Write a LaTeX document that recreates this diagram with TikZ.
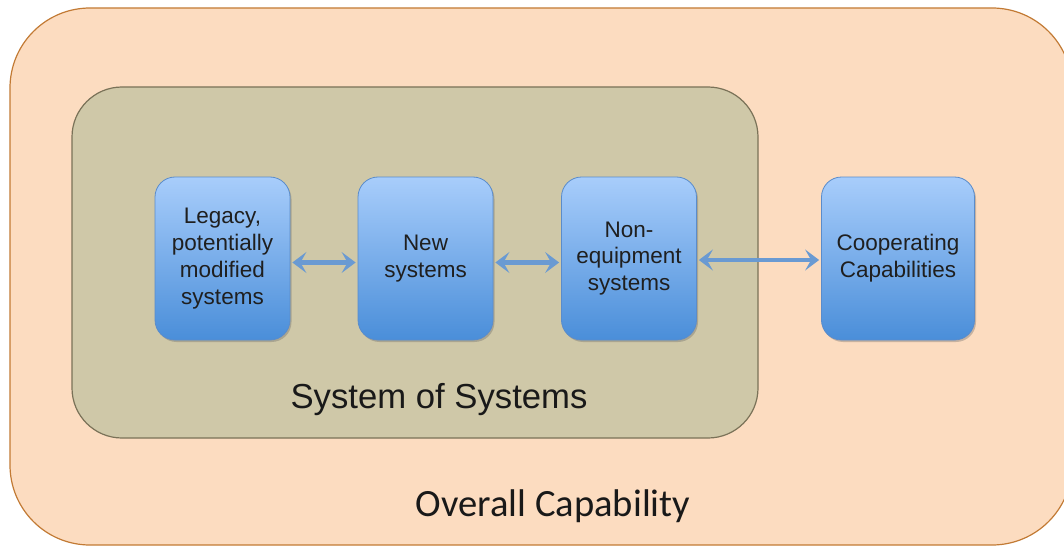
\documentclass[tikz,border=0pt]{standalone}
\usepackage{fontspec}
\setmainfont{Liberation Sans}
\newfontfamily\capfont{Carlito}
\usetikzlibrary{arrows.meta,shadows}
\definecolor{outerfill}{HTML}{FCDCC0}
\definecolor{outerline}{HTML}{C27A34}
\definecolor{innerfill}{HTML}{CFC8A8}
\definecolor{innerline}{HTML}{7A7258}
\definecolor{boxtop}{HTML}{A8CDFB}
\definecolor{boxbot}{HTML}{4A8ED9}
\definecolor{boxline}{HTML}{5A8CCB}
\definecolor{arrowcol}{HTML}{6A9AD2}
\tikzset{
  px/.style={x=1pt,y=-1pt},
  sysbox/.style={draw=boxline, line width=0.8pt, rounded corners=20pt,
    top color=boxtop, bottom color=boxbot,
    minimum width=135pt, minimum height=163pt,
    align=center, font=\fontsize{22.5}{26.8}\selectfont, text=black!88,
    drop shadow={shadow xshift=1.5pt, shadow yshift=-2pt, opacity=0.35, fill=black!60}},
  link/.style={draw=arrowcol, line width=4.5pt,
    {Stealth[length=14pt,width=21pt,inset=6pt]}-{Stealth[length=14pt,width=21pt,inset=6pt]}}
}
\begin{document}
\begin{tikzpicture}[px]
\useasboundingbox (0,0) rectangle (1064,548);
\clip (0,0) rectangle (1064,548);
% outer capability region
\draw[fill=outerfill, draw=outerline, line width=1.2pt, rounded corners=80pt]
  (10,8) rectangle (1072,545);
% system of systems region
\draw[fill=innerfill, draw=innerline, line width=1.2pt, rounded corners=50pt]
  (72,87) rectangle (758,438);
% constituent systems
\node[sysbox] (legacy) at (222.5,258.5) {Legacy,\\potentially\\modified\\systems};
\node[sysbox] (new) at (425.5,258.5) {New\\systems};
\node[sysbox] (noneq) at (629,258.5) {Non-\\equipment\\systems};
\node[sysbox, minimum width=153pt] (coop) at (898,258.5) {Cooperating\\Capabilities};
% interactions
\draw[link] ([yshift=-4pt,xshift=2pt]legacy.east) -- ([yshift=-4pt,xshift=-2pt]new.west);
\draw[link] ([yshift=-4pt,xshift=2pt]new.east) -- ([yshift=-4pt,xshift=-2pt]noneq.west);
\draw[link] ([yshift=-1.5pt,xshift=2pt]noneq.east) -- ([yshift=-1.5pt,xshift=-2pt]coop.west);
% region labels
\node[font=\fontsize{34.7}{40}\selectfont, text=black!90] (sos) at (439,400) {System of Systems};
\node[font=\capfont\fontsize{38.6}{44}\selectfont, text=black!90] (overall) at (553,506) {Overall Capability};
\end{tikzpicture}
\end{document}
